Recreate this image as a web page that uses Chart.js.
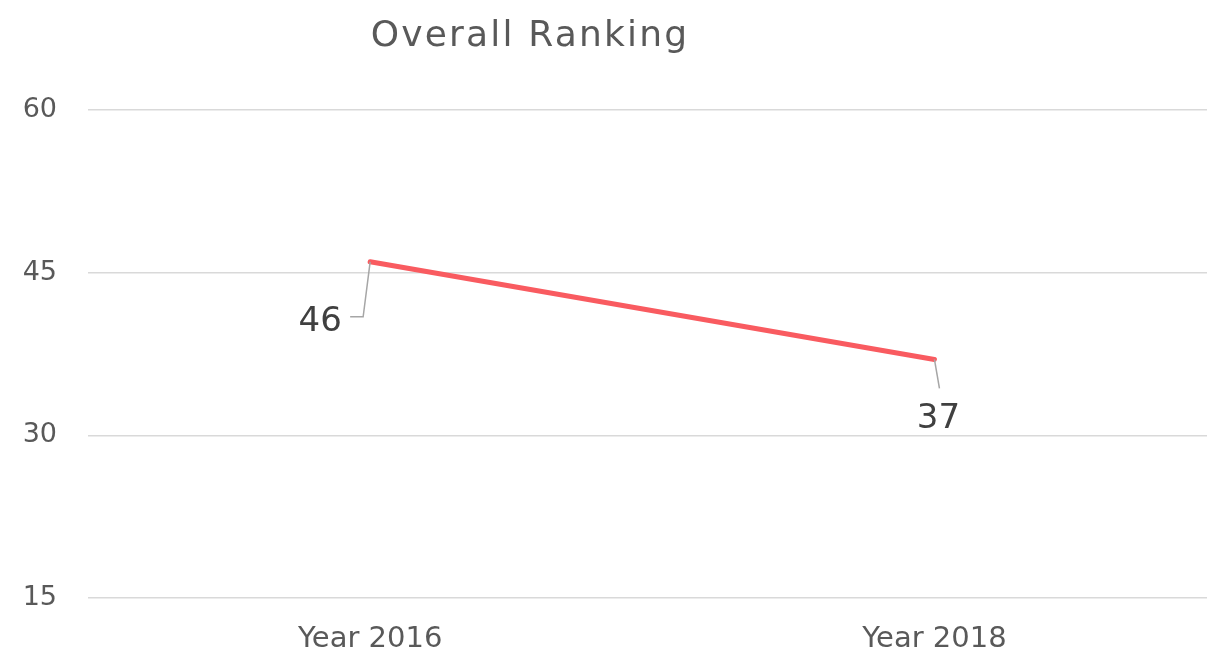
<!DOCTYPE html>
<html>
<head>
<meta charset="utf-8">
<script src="https://cdn.jsdelivr.net/npm/chart.js@4.4.1/dist/chart.umd.min.js"></script>
<style>
html,body{margin:0;padding:0;background:#fff;}
#wrap{width:1207px;height:657px;position:relative;}
</style>
</head>
<body>
<div id="wrap"><canvas id="c"></canvas></div>
<script>
const chartTitle = "Overall Ranking";
const categories = ["Year 2016", "Year 2018"];
const rankingValues = [46, 37];
const yTicks = [15, 30, 45, 60];

const FONT = "'DejaVu Sans', sans-serif";
const TEXT = "#595959";

const titlePlugin = {
  id: 'customTitle',
  afterDraw(chart) {
    const ctx = chart.ctx;
    ctx.save();
    ctx.font = "36px " + FONT;
    ctx.fillStyle = TEXT;
    ctx.textAlign = 'center';
    ctx.textBaseline = 'middle';
    try { ctx.letterSpacing = '2.2px'; } catch (e) {}
    ctx.fillText(chartTitle, 530, 37);
    ctx.restore();
  }
};

const labelPlugin = {
  id: 'leaderLabels',
  afterDatasetsDraw(chart) {
    const ctx = chart.ctx;
    const meta = chart.getDatasetMeta(0);
    ctx.save();
    ctx.strokeStyle = "#A6A6A6";
    ctx.lineWidth = 1.5;
    ctx.font = "34px " + FONT;
    ctx.fillStyle = "#404040";
    ctx.textBaseline = 'middle';
    meta.data.forEach((pt, i) => {
      const v = rankingValues[i];
      const x = pt.x, y = pt.y;
      ctx.beginPath();
      if (i === 0) {
        ctx.moveTo(x, y);
        ctx.lineTo(x - 7, y + 55);
        ctx.lineTo(x - 20, y + 55);
        ctx.stroke();
        ctx.textAlign = 'center';
        ctx.fillText(String(v), x - 50, y + 60);
      } else {
        ctx.moveTo(x, y);
        ctx.lineTo(x + 5, y + 29);
        ctx.stroke();
        ctx.textAlign = 'center';
        ctx.fillText(String(v), x + 4, y + 60);
      }
    });
    ctx.restore();
  }
};

new Chart(document.getElementById('c'), {
  type: 'line',
  data: {
    datasets: [{
      data: rankingValues.map((v, i) => ({x: i, y: v})),
      borderColor: "#F95B60",
      borderWidth: 5,
      borderCapStyle: 'round',
      pointRadius: 0,
      tension: 0,
      fill: false
    }]
  },
  options: {
    responsive: true,
    maintainAspectRatio: false,
    animation: false,
    layout: { padding: { top: 110, right: 0, left: 0, bottom: 0 } },
    plugins: { legend: { display: false }, title: { display: false }, tooltip: { enabled: false } },
    scales: {
      x: {
        type: 'linear',
        min: -0.5,
        max: 1.483,
        afterBuildTicks(s) { s.ticks = categories.map((c, i) => ({value: i})); },
        afterFit(s) { s.height = 59; },
        grid: { display: false, drawTicks: false },
        border: { display: false },
        ticks: {
          padding: 24,
          color: TEXT,
          font: { family: FONT, size: 29 },
          maxRotation: 0,
          callback: (v) => categories[v] ?? ''
        }
      },
      y: {
        min: 15,
        max: 60,
        afterBuildTicks(s) { s.ticks = yTicks.map(v => ({value: v})); },
        afterFit(s) { s.width = 88; },
        grid: { color: "#D9D9D9", lineWidth: 1.5, drawTicks: false },
        border: { display: false },
        ticks: {
          padding: 31,
          color: TEXT,
          font: { family: FONT, size: 27 }
        }
      }
    }
  },
  plugins: [titlePlugin, labelPlugin]
});
</script>
</body>
</html>
